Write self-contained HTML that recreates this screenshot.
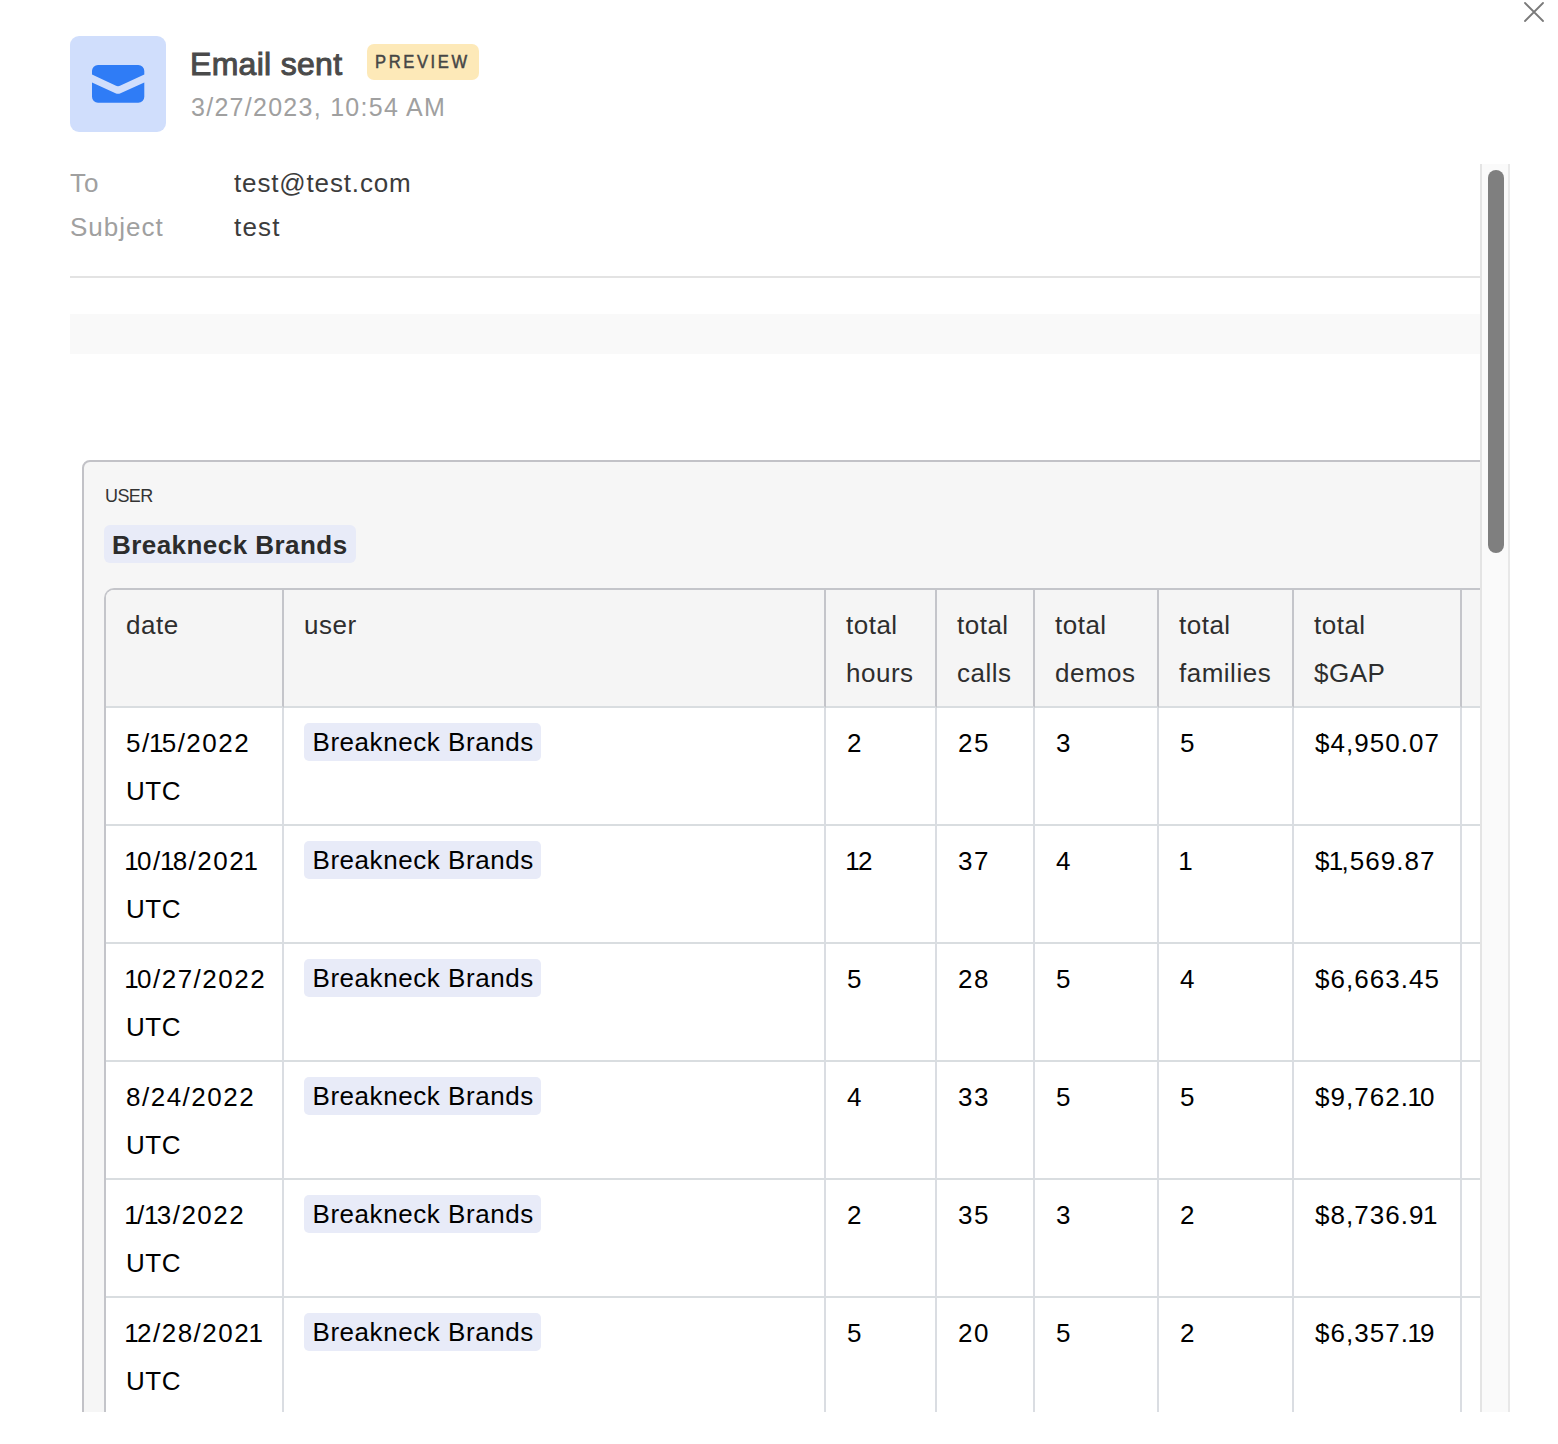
<!DOCTYPE html>
<html>
<head>
<meta charset="utf-8">
<style>
*{box-sizing:border-box;margin:0;padding:0}
html,body{width:1558px;height:1444px;overflow:hidden;background:#fff}
body{position:relative;font-family:"Liberation Sans",sans-serif;color:#333}
.abs{position:absolute}
#close{left:1516px;top:0;width:36px;height:28px}
#icon{left:70px;top:36px;width:96px;height:96px;background:#d0defc;border-radius:9px}
#icon svg{position:absolute;left:0;top:0}
#title{left:190px;top:41.5px;font-size:32px;line-height:44px;font-weight:normal;-webkit-text-stroke:1px #4a4a4a;color:#4a4a4a;white-space:nowrap;letter-spacing:0.3px}
#badge{left:367px;top:44px;width:112px;height:36px;background:#fde9b8;border-radius:7px;font-size:18px;font-weight:normal;-webkit-text-stroke:0.5px #464646;color:#464646;letter-spacing:2.85px;line-height:37px;padding-left:8px;white-space:nowrap}
#badge span{display:inline-block;transform:scaleX(0.92);transform-origin:0 0}
#date{left:191px;top:87px;font-size:25px;line-height:40px;color:#a0a0a0;white-space:nowrap;letter-spacing:1.28px}
#scroll{left:0;top:164px;width:1480px;height:1248px;overflow:hidden}
.lbl{position:absolute;left:70px;font-size:26px;line-height:44px;color:#a0a0a0;letter-spacing:1px;white-space:nowrap}
.val{position:absolute;left:234px;font-size:26px;line-height:44px;color:#3c3c3c;letter-spacing:0.85px;white-space:nowrap}
#hr{left:70px;top:112px;width:1420px;height:2px;background:#e3e3e3}
#bar{left:70px;top:150px;width:1420px;height:40px;background:#f9f9f9}
#card{left:82px;top:296px;width:1500px;height:1200px;border:2px solid #c2c2c7;border-radius:8px;background:#f6f6f6}
#userlbl{left:21px;top:18.5px;font-size:18px;line-height:30px;color:#333;letter-spacing:-0.6px}
#pill{left:20px;top:63px;height:38px;padding:0 8px;background:#e8ebf8;border-radius:6px;font-size:26px;font-weight:bold;line-height:40px;color:#2c2c2c;letter-spacing:0.45px;white-space:nowrap}
table{position:absolute;left:20px;top:126px;border-collapse:separate;border-spacing:0;table-layout:fixed;border-left:2px solid #c4c5ca;border-top:2px solid #c4c5ca;border-top-left-radius:10px;background:#fff;width:1600px}
td,th{box-sizing:border-box;font-weight:normal;text-align:left;vertical-align:top;font-size:26px;line-height:48px;padding:11px 20px 9px;height:118px;border-right:2px solid #dadde2;border-bottom:2px solid #d9dde0;letter-spacing:0.5px;color:#000;white-space:nowrap}
th{background:#f5f5f5;border-right-color:#c4c5ca;color:#2e2e2e}
th:first-child{border-top-left-radius:8px}
.p{display:inline-block;background:#e8ebf8;border-radius:5px;padding:0 7px 0 8.5px;margin-left:0;line-height:38px;height:38px;vertical-align:top;margin-top:4px;letter-spacing:0.55px}
.n{letter-spacing:1.5px}
td.n{padding-left:21px}
.m{letter-spacing:1.05px}
.n i{font-style:normal;letter-spacing:-1.8px;margin-left:-1.7px}
</style>
</head>
<body>
<svg class="abs" id="close" viewBox="0 0 36 28"><path d="M9 3 L27 21 M27 3 L9 21" stroke="#7a7a7a" stroke-width="1.8" stroke-linecap="round" fill="none"/></svg>
<div class="abs" id="icon"><svg width="96" height="96" viewBox="0 0 96 96"><path fill="#2f7cf6" d="M28 29 H68.3 A6 6 0 0 1 74.3 35 V38.6 L50.5 49.6 Q48 50.8 45.5 49.6 L22 38.6 V35 A6 6 0 0 1 28 29 Z M22 46.6 L45.5 57.2 Q48 58.4 50.5 57.2 L74.3 46.6 V60.7 A6 6 0 0 1 68.3 66.7 H28 A6 6 0 0 1 22 60.7 Z"/></svg></div>
<div class="abs" id="title">Email sent</div>
<div class="abs" id="badge"><span>PREVIEW</span></div>
<div class="abs" id="date">3/27/2023, 10:54 AM</div>

<div class="abs" id="scroll">
  <div class="lbl" style="top:-3px">To</div>
  <div class="val" style="top:-3px">test@test.com</div>
  <div class="lbl" style="top:41px">Subject</div>
  <div class="val" style="top:41px;letter-spacing:1.2px">test</div>
  <div class="abs" id="hr"></div>
  <div class="abs" id="bar"></div>
  <div class="abs" id="card">
    <div class="abs" id="userlbl">USER</div>
    <div class="abs" id="pill">Breakneck Brands</div>
    <table>
      <colgroup><col style="width:178px"><col style="width:542px"><col style="width:111px"><col style="width:98px"><col style="width:124px"><col style="width:135px"><col style="width:168px"><col style="width:244px"></colgroup>
      <tr><th>date</th><th>user</th><th>total<br>hours</th><th>total<br>calls</th><th>total<br>demos</th><th>total<br>families</th><th>total<br>$GAP</th><th></th></tr>
      <tr><td><span class="n">5/<i>1</i>5/2022</span><br>UTC</td><td><span class="p">Breakneck Brands</span></td><td class="n">2</td><td class="n">25</td><td class="n">3</td><td class="n">5</td><td class="n m">$4,950.07</td><td></td></tr>
      <tr><td><span class="n"><i>1</i>0/<i>1</i>8/202<i>1</i></span><br>UTC</td><td><span class="p">Breakneck Brands</span></td><td class="n"><i>1</i>2</td><td class="n">37</td><td class="n">4</td><td class="n"><i>1</i></td><td class="n m">$<i>1</i>,569.87</td><td></td></tr>
      <tr><td><span class="n"><i>1</i>0/27/2022</span><br>UTC</td><td><span class="p">Breakneck Brands</span></td><td class="n">5</td><td class="n">28</td><td class="n">5</td><td class="n">4</td><td class="n m">$6,663.45</td><td></td></tr>
      <tr><td><span class="n">8/24/2022</span><br>UTC</td><td><span class="p">Breakneck Brands</span></td><td class="n">4</td><td class="n">33</td><td class="n">5</td><td class="n">5</td><td class="n m">$9,762.<i>1</i>0</td><td></td></tr>
      <tr><td><span class="n"><i>1</i>/<i>1</i>3/2022</span><br>UTC</td><td><span class="p">Breakneck Brands</span></td><td class="n">2</td><td class="n">35</td><td class="n">3</td><td class="n">2</td><td class="n m">$8,736.9<i>1</i></td><td></td></tr>
      <tr><td><span class="n"><i>1</i>2/28/202<i>1</i></span><br>UTC</td><td><span class="p">Breakneck Brands</span></td><td class="n">5</td><td class="n">20</td><td class="n">5</td><td class="n">2</td><td class="n m">$6,357.<i>1</i>9</td><td></td></tr>
      <tr><td><span class="n"><i>1</i>/<i>1</i>/2022</span><br>UTC</td><td><span class="p">Breakneck Brands</span></td><td class="n">3</td><td class="n">30</td><td class="n">4</td><td class="n">3</td><td class="n m">$5,000.00</td><td></td></tr>
    </table>
  </div>
</div>

<div class="abs" id="track" style="left:1480px;top:164px;width:30px;height:1248px;background:#fafafa;border-left:2px solid #e4e4e4;border-right:2px solid #e8e8e8"></div>
<div class="abs" id="thumb" style="left:1488px;top:170px;width:16px;height:383px;background:#7f7f7f;border-radius:8px"></div>
</body>
</html>
